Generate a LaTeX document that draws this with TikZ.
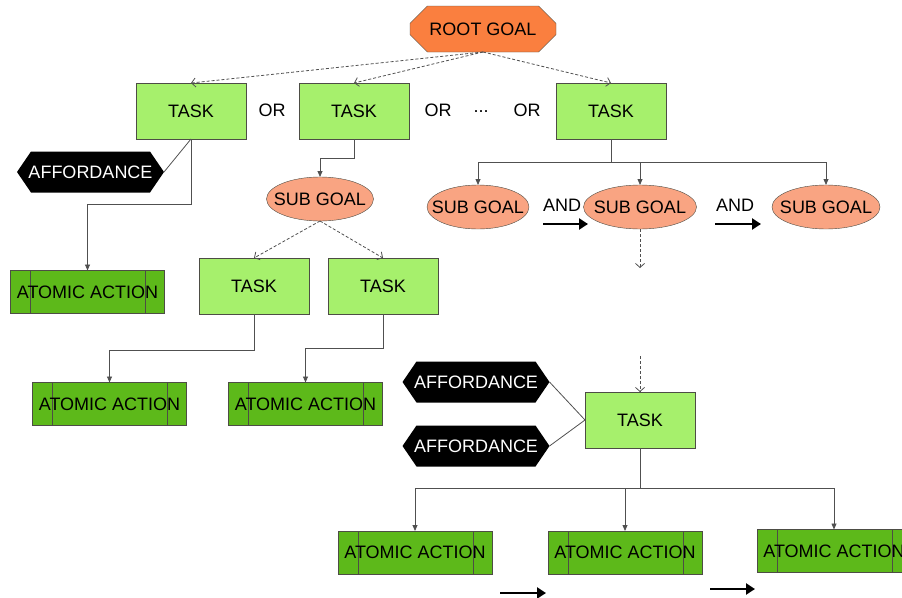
\documentclass[tikz,border=0pt]{standalone}
\usepackage{fontspec}
\setmainfont{Liberation Sans}
\usetikzlibrary{arrows.meta,shapes.misc,shapes.geometric}

\definecolor{taskgreen}{HTML}{A6F06C}
\definecolor{atomgreen}{HTML}{5DB91A}
\definecolor{rootorange}{HTML}{FA7F3F}
\definecolor{salmon}{HTML}{F9A482}
\definecolor{edge}{HTML}{4D4D45}
\definecolor{wire}{HTML}{505050}

\begin{document}
\begin{tikzpicture}[x=1pt,y=-1pt,
  every node/.style={font=\fontsize{18}{20}\selectfont, inner sep=0pt, outer sep=0pt},
  rootbox/.style={chamfered rectangle, chamfered rectangle xsep=22pt,
    chamfered rectangle ysep=11pt, draw=edge, fill=rootorange,
    minimum width=146pt, minimum height=46pt},
  taskbox/.style={draw=edge, fill=taskgreen, minimum width=110pt, minimum height=56pt},
  atombox/.style={draw=edge, fill=atomgreen, minimum width=154pt, minimum height=43pt,
    path picture={
      \draw[edge] ([xshift=20pt]path picture bounding box.north west) -- ([xshift=20pt]path picture bounding box.south west);
      \draw[edge] ([xshift=-19pt]path picture bounding box.north east) -- ([xshift=-19pt]path picture bounding box.south east);}},
  subgoal/.style={ellipse, draw=edge, fill=salmon, inner xsep=-10pt,
    minimum width=107pt, minimum height=44pt},
  affordance/.style={text=white, minimum width=147pt, minimum height=41pt,
    path picture={
      \fill[black] (path picture bounding box.west)
        -- ([xshift=14pt]path picture bounding box.north west)
        -- ([xshift=-14pt]path picture bounding box.north east)
        -- (path picture bounding box.east)
        -- ([xshift=-14pt]path picture bounding box.south east)
        -- ([xshift=14pt]path picture bounding box.south west) -- cycle;}},
  link/.style={draw=wire, line width=0.8pt},
  solidarrow/.style={link, -{Triangle[length=6pt,width=5pt]}},
  dasharrow/.style={draw=wire, line width=0.8pt, dash pattern=on 3pt off 2pt,
    -{Straight Barb[length=4pt,width=9pt]}},
  seqarrow/.style={draw=black, line width=2.6pt, -{Triangle[length=9pt,width=11pt]}},
  label/.style={text=black}
]
\useasboundingbox (0,0) rectangle (902,597);

% top level: root goal and alternative tasks
\node[rootbox] (root) at (483,29) {ROOT GOAL};
\node[taskbox] (task1) at (191,111) {TASK};
\node[taskbox] (task2) at (354,111) {TASK};
\node[taskbox] (task3) at (611,111) {TASK};
\node[label] (or1) at (272,110) {OR};
\node[label] (or2) at (438,110) {OR};
\node[label] (dots) at (481,112) {...};
\node[label] (or3) at (527,110) {OR};

\draw[dasharrow] (root.south) -- (task1.north);
\draw[dasharrow] (root.south) -- (task2.north);
\draw[dasharrow] (root.south) -- (task3.north);

% left branch
\node[affordance] (aff1) at (90.5,172) {AFFORDANCE};
\node[atombox] (atom1) at (87.5,292) {ATOMIC ACTION};
\draw[link] (task1.south) -- (aff1.east);
\draw[solidarrow] (task1.south) -- ++(0,65) -| (atom1.north);

% middle branch
\node[subgoal] (sub1) at (320,199) {SUB GOAL};
\node[taskbox] (task4) at (254,286) {TASK};
\node[taskbox] (task5) at (383,286) {TASK};
\node[atombox] (atom2) at (109.5,404) {ATOMIC ACTION};
\node[atombox] (atom3) at (305.5,404) {ATOMIC ACTION};
\draw[solidarrow] (task2.south) -- ++(0,19) -| (sub1.north);
\draw[dasharrow] (sub1.south) -- (task4.north);
\draw[dasharrow] (sub1.south) -- (task5.north);
\draw[solidarrow] (task4.south) -- ++(0,36) -| (atom2.north);
\draw[solidarrow] (task5.south) -- ++(0,34) -| (atom3.north);

% right branch: ordered sub goals
\node[subgoal, minimum width=101pt] (sgA) at (478,207) {SUB GOAL};
\node[subgoal, minimum width=113pt] (sgB) at (640,207) {SUB GOAL};
\node[subgoal, minimum width=108pt] (sgC) at (826,207) {SUB GOAL};
\node[label] (and1) at (562,205) {AND};
\node[label] (and2) at (735,205) {AND};
\coordinate (split) at (611,162);
\draw[link] (task3.south) -- (split);
\draw[solidarrow] (split) -| (sgA.north);
\draw[solidarrow] (split) -| (sgB.north);
\draw[solidarrow] (split) -| (sgC.north);
\coordinate (s1a) at (543,224); \coordinate (s1b) at (588,224);
\coordinate (s2a) at (715,224); \coordinate (s2b) at (761,224);
\draw[seqarrow] (s1a) -- (s1b);
\draw[seqarrow] (s2a) -- (s2b);
\coordinate (gapTop) at (640,268);
\draw[dasharrow] (sgB.south) -- (gapTop);

% lower detail: task with affordances and atomic actions
\coordinate (gapBot) at (640,356);
\node[taskbox] (task6) at (640,420) {TASK};
\node[affordance] (affA) at (476,382) {AFFORDANCE};
\node[affordance] (affB) at (476,446) {AFFORDANCE};
\draw[dasharrow] (gapBot) -- (task6.north);
\draw[link] (affA.east) -- (task6.west);
\draw[link] (affB.east) -- (task6.west);

\node[atombox] (atomB1) at (415,552.5) {ATOMIC ACTION};
\node[atombox] (atomB2) at (625,552.5) {ATOMIC ACTION};
\node[atombox] (atomB3) at (834,551) {ATOMIC ACTION};
\coordinate (join) at (640,488);
\draw[link] (task6.south) -- (join);
\draw[solidarrow] (join) -| (atomB1.north);
\draw[solidarrow] (join) -| (atomB2.north);
\draw[solidarrow] (join) -| (atomB3.north);
\coordinate (s3a) at (500,593); \coordinate (s3b) at (546,593);
\coordinate (s4a) at (710,589); \coordinate (s4b) at (755,589);
\draw[seqarrow] (s3a) -- (s3b);
\draw[seqarrow] (s4a) -- (s4b);
\end{tikzpicture}
\end{document}
